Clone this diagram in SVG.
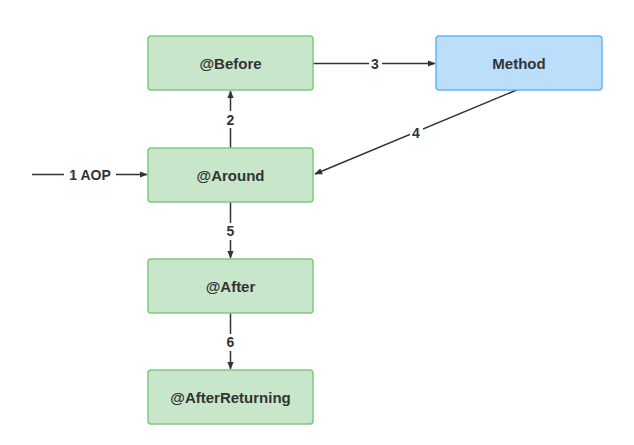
<svg xmlns="http://www.w3.org/2000/svg" width="634" height="445" viewBox="0 0 634 445">
<style>
.g{fill:#c8e6c9;stroke:#81c784;stroke-width:1.5}
.b{fill:#bbdefb;stroke:#64b5f6;stroke-width:1.5}
.t{font-family:"Comic Sans MS","Liberation Sans",sans-serif;font-weight:bold;font-size:15px;fill:#333;text-anchor:middle;dominant-baseline:central}
.e{stroke:#333;stroke-width:1.5;fill:none;marker-end:url(#a)}
.l{font-family:"Liberation Sans",sans-serif;font-weight:bold;font-size:14px;fill:#333;text-anchor:middle;dominant-baseline:central}
.lb{fill:#fff;stroke:none}
</style>
<defs>
<marker id="a" viewBox="0 0 10 10" refX="9" refY="5" markerWidth="8" markerHeight="8" markerUnits="userSpaceOnUse" orient="auto">
<path d="M0,1 L10,5 L0,9 Z" fill="#333"/>
</marker>
</defs>
<rect width="634" height="445" fill="#fff"/>
<g id="edges">
<line class="e" x1="32" y1="174.5" x2="147" y2="174.5"/>
<rect class="lb" x="64" y="166" width="52" height="17"/>
<text class="l" x="90" y="175">1 AOP</text>
<line class="e" x1="230.5" y1="148" x2="230.5" y2="91"/>
<rect class="lb" x="224" y="111" width="13" height="17"/>
<text class="l" x="230.5" y="119.5">2</text>
<line class="e" x1="313" y1="63.5" x2="435" y2="63.5"/>
<rect class="lb" x="369" y="55" width="13" height="17"/>
<text class="l" x="375" y="63.5">3</text>
<line class="e" x1="519" y1="89" x2="315" y2="174"/>
<rect class="lb" x="410" y="125" width="13" height="17"/>
<text class="l" x="416" y="133">4</text>
<line class="e" x1="230.5" y1="202" x2="230.5" y2="258"/>
<rect class="lb" x="224" y="223" width="13" height="17"/>
<text class="l" x="230.5" y="231">5</text>
<line class="e" x1="230.5" y1="313" x2="230.5" y2="369"/>
<rect class="lb" x="224" y="334" width="13" height="17"/>
<text class="l" x="230.5" y="342">6</text>
</g>
<g id="before"><rect class="g" x="148" y="36" width="165" height="54" rx="3"/><text class="t" x="230.5" y="63">@Before</text></g>
<g id="method"><rect class="b" x="436" y="36" width="166" height="54" rx="3"/><text class="t" x="519" y="63">Method</text></g>
<g id="around"><rect class="g" x="148" y="148" width="165" height="54" rx="3"/><text class="t" x="230.5" y="175">@Around</text></g>
<g id="after"><rect class="g" x="148" y="259" width="165" height="54" rx="3"/><text class="t" x="230.5" y="286">@After</text></g>
<g id="afterReturning"><rect class="g" x="148" y="370" width="165" height="54" rx="3"/><text class="t" x="230.5" y="397">@AfterReturning</text></g>
</svg>
